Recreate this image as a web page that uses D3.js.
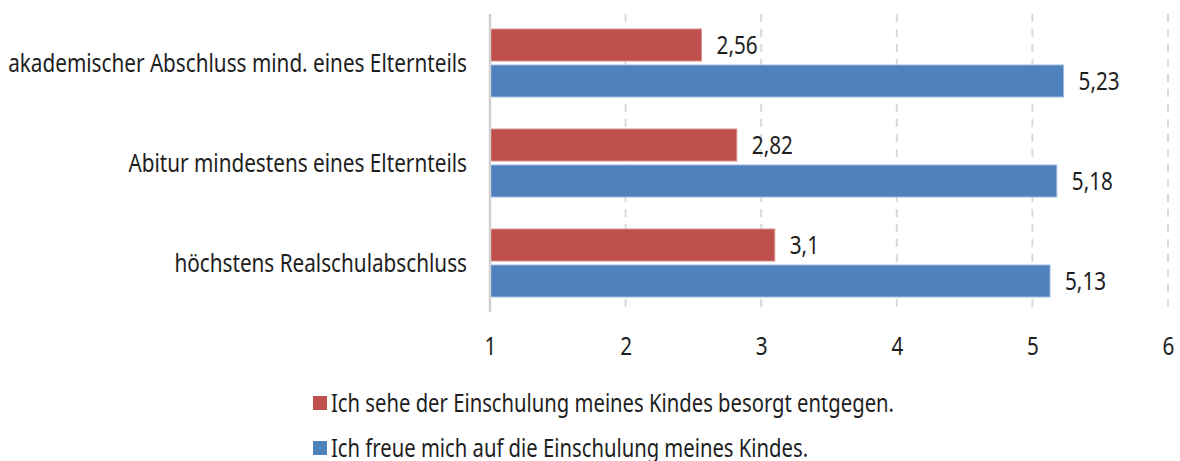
<!DOCTYPE html>
<html><head><meta charset="utf-8">
<script src="https://cdn.jsdelivr.net/npm/d3@7"></script>
<style>
html,body{margin:0;padding:0;background:#fff;}
svg text{font-family:"Noto Sans","Open Sans",sans-serif;fill:#1e1e1e;}
</style></head>
<body>
<svg id="c" width="1180" height="461"></svg>
<script>
const categories = ["akademischer Abschluss mind. eines Elternteils","Abitur mindestens eines Elternteils","höchstens Realschulabschluss"];
const seriesNames = ["Ich sehe der Einschulung meines Kindes besorgt entgegen.","Ich freue mich auf die Einschulung meines Kindes."];
const worried = [2.56, 2.82, 3.1];
const looking = [5.23, 5.18, 5.13];
const tickValues = [1,2,3,4,5,6];
const colors = ["#C0504D","#4F81BD"];

const FS = 26;
const svg = d3.select("#c");
const x = d3.scaleLinear().domain([1,6]).range([490,1168]);
const y = d3.scaleBand().domain(categories).range([13,313]).paddingInner(0.32).paddingOuter(0.16);
const ys = d3.scaleBand().domain([0,1]).range([0,y.bandwidth()]).paddingInner(0.111);
const fmt = v => String(v).replace(".",",");

// gridlines
svg.append("g").selectAll("line").data(tickValues.slice(1)).join("line")
  .attr("x1",d=>x(d)).attr("x2",d=>x(d)).attr("y1",14).attr("y2",312)
  .attr("stroke","#d9d9d9").attr("stroke-width",2).attr("stroke-dasharray","8,7");

const series = [worried, looking];
series.forEach((vals,si)=>{
  const g = svg.append("g");
  g.selectAll("rect").data(categories).join("rect")
    .attr("x",x(1)).attr("y",(d)=>y(d)+ys(si))
    .attr("width",(d,i)=>x(vals[i])-x(1)).attr("height",ys.bandwidth())
    .attr("fill",colors[si]).attr("stroke", si===0?"#d98f8d":"#9dbbe0").attr("stroke-width",1);
  g.selectAll("text").data(categories).join("text")
    .attr("x",(d,i)=>x(vals[i])+15).attr("y",d=>y(d)+ys(si)+ys.bandwidth()/2)
    .attr("dy","0.36em").attr("font-size",FS).text((d,i)=>fmt(vals[i]));
});

// y axis line
svg.append("line").attr("x1",x(1)).attr("x2",x(1)).attr("y1",14).attr("y2",312)
  .attr("stroke","#d0d0d0").attr("stroke-width",2.5);

// x axis ticks
const xAxis = d3.axisBottom(x).tickValues(tickValues).tickSize(0).tickPadding(0).tickFormat(d=>d);
const xg = svg.append("g").attr("transform","translate(0,337)").call(xAxis);
xg.select(".domain").remove();
xg.selectAll("text").attr("font-size",FS).attr("font-family",null).attr("fill",null);

// category labels
const yAxis = d3.axisLeft(y).tickSize(0).tickPadding(0);
const yg = svg.append("g").attr("transform","translate(467,0)").call(yAxis);
yg.select(".domain").remove();
yg.selectAll("text").attr("font-size",FS).attr("font-family",null).attr("fill",null).attr("dy","0.34em");

// legend
const leg = svg.append("g").attr("class","legend");
seriesNames.forEach((n,i)=>{
  const yy = 403 + i*45;
  leg.append("rect").attr("x",313).attr("y",yy-7).attr("width",14).attr("height",14).attr("fill",colors[i]);
  leg.append("text").attr("x",331).attr("y",yy).attr("dy","0.36em").attr("font-size",FS).text(n);
});

// condense all text horizontally to match the narrow typeface of the original
const ref = yg.selectAll("text").filter(d=>d===categories[1]).node();
const k = 342 / ref.getComputedTextLength();
const legRef = leg.select("text").node();
const kLeg = 563 / legRef.getComputedTextLength();
svg.selectAll("text").each(function(){
  const w = this.getComputedTextLength();
  const inLeg = this.parentNode.getAttribute("class")==="legend";
  d3.select(this).attr("textLength", w*(inLeg?kLeg:k*0.99)).attr("lengthAdjust","spacingAndGlyphs");
});
</script>
</body></html>
